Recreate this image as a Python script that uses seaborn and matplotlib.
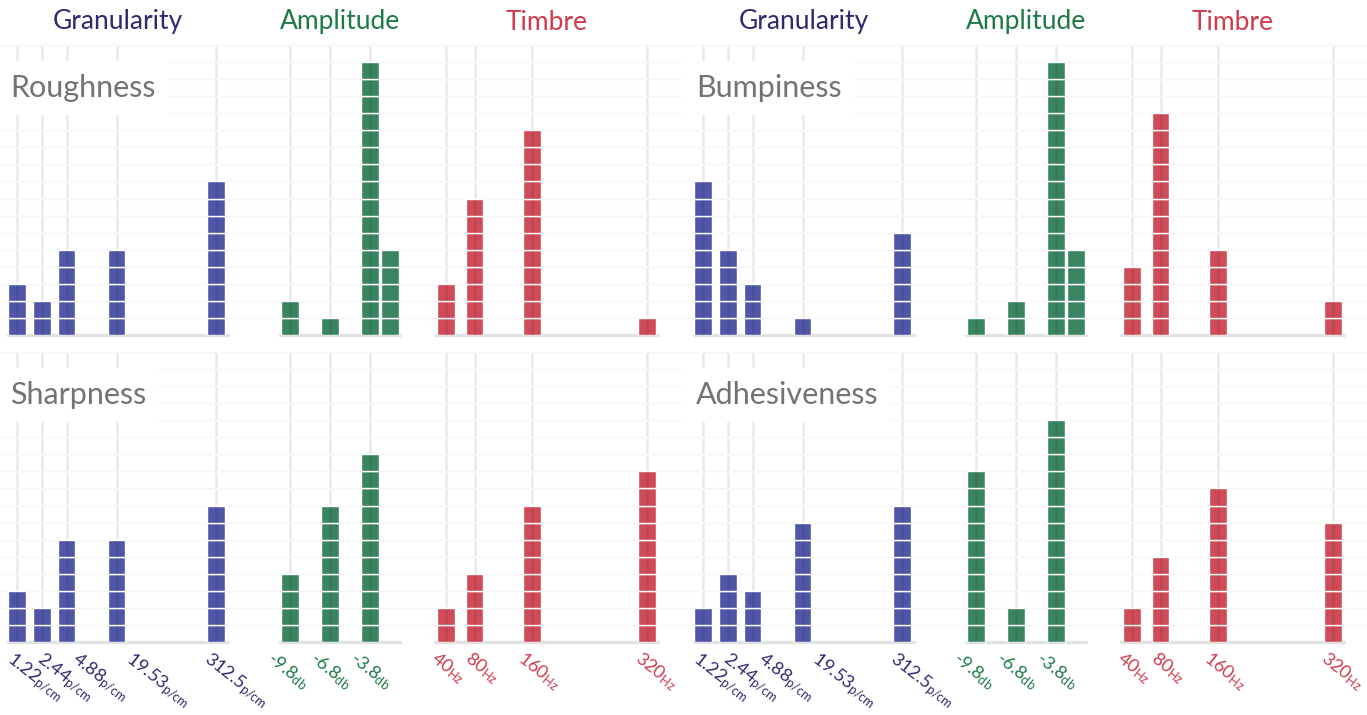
import matplotlib.pyplot as plt
import matplotlib.transforms as mtransforms
import numpy as np
import pandas as pd
import seaborn as sns

# stimulus levels for the three perceptual dimensions
gran_levels = [1.22, 2.44, 4.88, 19.53, 312.5]
gran_labels = ["1.22", "2.44", "4.88", "19.53", "312.5"]
amp_levels = [-9.8, -6.8, -3.8, -2.3]
amp_ticks = [-9.8, -6.8, -3.8]
amp_labels = ["-9.8", "-6.8", "-3.8"]
timbre_levels = [40, 80, 160, 320]
timbre_labels = ["40", "80", "160", "320"]

# number of votes per level (one square per vote)
roughness_gran = [3, 2, 5, 5, 9]
roughness_amp = [2, 1, 16, 5]
roughness_timbre = [3, 8, 12, 1]

bumpiness_gran = [9, 5, 3, 1, 6]
bumpiness_amp = [1, 2, 16, 5]
bumpiness_timbre = [4, 13, 5, 2]

sharpness_gran = [3, 2, 6, 6, 8]
sharpness_amp = [4, 8, 11, 0]
sharpness_timbre = [2, 4, 8, 10]

adhesiveness_gran = [2, 4, 3, 7, 8]
adhesiveness_amp = [10, 2, 13, 0]
adhesiveness_timbre = [2, 5, 9, 7]

attributes = ["Roughness", "Bumpiness", "Sharpness", "Adhesiveness"]

sns.set_theme(style="white")
plt.rcParams["font.family"] = ["Lato", "DejaVu Sans"]
plt.rcParams["mathtext.fontset"] = "custom"
plt.rcParams["mathtext.rm"] = "Lato"
plt.rcParams["mathtext.it"] = "Lato:italic"

BLUE, GREEN, RED = "#4f56a8", "#3a8560", "#d04b58"
BLUE_TXT, GREEN_TXT, RED_TXT = "#2d2a6e", "#1e7a45", "#d03a4c"
GRAY_TXT = "#737373"

# long table: one row per attribute / dimension / level
rows = []
counts = {
    "Roughness": (roughness_gran, roughness_amp, roughness_timbre),
    "Bumpiness": (bumpiness_gran, bumpiness_amp, bumpiness_timbre),
    "Sharpness": (sharpness_gran, sharpness_amp, sharpness_timbre),
    "Adhesiveness": (adhesiveness_gran, adhesiveness_amp, adhesiveness_timbre),
}
for attr, (g, a, t) in counts.items():
    for lvl, n in zip(gran_levels, g):
        rows.append((attr, "Granularity", lvl, n))
    for lvl, n in zip(amp_levels, a):
        rows.append((attr, "Amplitude", lvl, n))
    for lvl, n in zip(timbre_levels, t):
        rows.append((attr, "Timbre", lvl, n))
df = pd.DataFrame(rows, columns=["attribute", "dimension", "level", "count"])

W, H = 1367, 715
YMAX = 17
fig = plt.figure(figsize=(W / 100, H / 100), dpi=100)

row_bottom = [335, 642]
row_height = 290
panel_shift = [0, 686]

# dimension settings: pixel span, x limits, transform, bar width, ticks,
# and per-label nudges (px) so the slanted labels do not collide
dims = {
    "Granularity": dict(span=(8, 228), xlim=(np.log2(1.22) - 0.36, np.log2(312.5) + 0.48),
                        tf=np.log2, width=0.70, color=BLUE, tcolor=BLUE_TXT,
                        ticks=gran_levels, labels=gran_labels, unit="p/cm",
                        shift=[-2, 3, 14, 18, -4]),
    "Amplitude": dict(span=(280, 400), xlim=(-10.55, -1.55), tf=lambda v: np.asarray(v),
                      width=1.32, color=GREEN, tcolor=GREEN_TXT,
                      ticks=amp_ticks, labels=amp_labels, unit="db",
                      shift=[-15, -12, -12]),
    "Timbre": dict(span=(435, 658), xlim=(24.7, 335.3), tf=lambda v: np.asarray(v),
                   width=24.5, color=RED, tcolor=RED_TXT,
                   ticks=timbre_levels, labels=timbre_labels, unit="Hz",
                   shift=[-7, -2, -6, -4]),
}

# dashed vertical guides with a gap at every unit
unit_px = row_height / YMAX
lw = 1.8
lw_px = lw * 100 / 72
gap_px = 2.0
dash = (unit_px - gap_px) / lw_px
gap = gap_px / lw_px
guide_style = (dash + gap / 2, (dash, gap))

for r in range(2):
    ybot = row_bottom[r]
    # faint horizontal lines across the whole row
    bg = fig.add_axes([0, 1 - ybot / H, 1, row_height / H])
    bg.set_ylim(0, YMAX)
    bg.set_xlim(0, 1)
    bg.set_yticks(np.arange(1, YMAX + 1))
    bg.set_xticks([])
    bg.tick_params(length=0, labelleft=False)
    bg.set_frame_on(False)
    bg.grid(axis="y", color="#f5f5f5", lw=1)
    bg.set_facecolor("none")

    for c in range(2):
        attr = attributes[r * 2 + c]
        for dim, cfg in dims.items():
            x0, x1 = cfg["span"]
            x0 += panel_shift[c]
            x1 += panel_shift[c]
            ax = fig.add_axes([x0 / W, 1 - ybot / H, (x1 - x0) / W, row_height / H])
            ax.set_facecolor("none")
            sub = df[(df["attribute"] == attr) & (df["dimension"] == dim)]
            for lvl, n in zip(sub["level"], sub["count"]):
                if n == 0:
                    continue
                xpos = float(cfg["tf"](lvl))
                ax.bar([xpos] * n, 1, bottom=np.arange(n), width=cfg["width"],
                       color=cfg["color"], edgecolor="white", linewidth=1.0, zorder=2)
            tick_pos = [float(cfg["tf"](t)) for t in cfg["ticks"]]
            for tp in tick_pos:
                ax.axvline(tp, color="black", alpha=0.085, lw=lw,
                           linestyle=guide_style, zorder=3)
            ax.axhline(0, color="#e2e2e2", lw=2.4, zorder=1, clip_on=False)
            ax.set_xlim(*cfg["xlim"])
            ax.set_ylim(0, YMAX)
            ax.set_yticks([])
            for s in ax.spines.values():
                s.set_visible(False)
            ax.tick_params(length=0)
            if r == 1:
                ax.set_xticks(tick_pos)
                ax.set_xticklabels(
                    [f"{lab}$_{{\\mathrm{{{cfg['unit']}}}}}$" for lab in cfg["labels"]],
                    rotation=-38, ha="left", va="top", rotation_mode="anchor",
                    color=cfg["tcolor"], fontsize=13)
                ax.tick_params(axis="x", pad=5)
                for lab, dx in zip(ax.get_xticklabels(), cfg["shift"]):
                    offset = mtransforms.ScaledTranslation(dx / 100, 0, fig.dpi_scale_trans)
                    lab.set_transform(lab.get_transform() + offset)
            else:
                ax.set_xticks([])
                ax.text(0.5, 1 + 23 / row_height, dim, transform=ax.transAxes,
                        ha="center", va="center", fontsize=19, color=cfg["tcolor"])

        # attribute name in a white box over the guides
        fig.text((10 + panel_shift[c]) / W, 1 - (ybot - 247) / H, attr,
                 fontsize=22, color=GRAY_TXT, ha="left", va="center",
                 bbox=dict(facecolor="white", edgecolor="none", pad=9))

fig.savefig("out.png", dpi=100)
plt.close(fig)
